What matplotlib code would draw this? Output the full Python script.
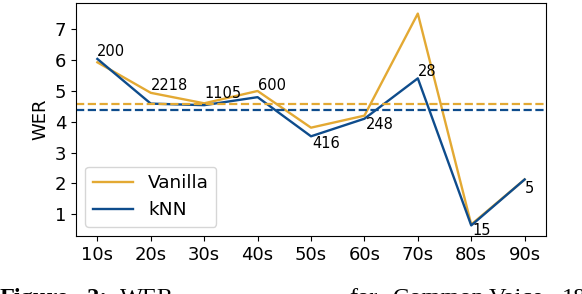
import matplotlib
matplotlib.use("Agg")
import matplotlib.pyplot as plt
import numpy as np

categories = ["10s", "20s", "30s", "40s", "50s", "60s", "70s", "80s", "90s"]
vanilla = [5.93, 4.94, 4.60, 5.00, 3.81, 4.20, 7.51, 0.67, 2.13]
knn = [6.04, 4.59, 4.54, 4.80, 3.53, 4.10, 5.41, 0.64, 2.13]
vanilla_mean = 4.58
knn_mean = 4.38
counts = ["200", "2218", "1105", "600", "416", "248", "28", "15", "5"]

# label placement: (dx pt, dy pt, vertical alignment) relative to kNN point
label_style = [(-0.5, 2.0, "baseline"), (0.3, 9.6, "baseline"), (0.2, 5.5, "baseline"),
               (0.4, 5.5, "baseline"), (0.7, 0.0, "top"), (0.7, 1.0, "top"),
               (0.2, 2.0, "baseline"), (1.2, 1.5, "top"), (0.3, -1.0, "top")]

c_van = "#E3A933"
c_knn = "#0E4C8C"

fig = plt.figure(figsize=(5.82, 2.94), dpi=100)
ax = fig.add_axes([76/582, 58/294, 470/582, 233/294])

x = np.arange(len(categories))
ax.plot(x, vanilla, color=c_van, lw=1.7, label="Vanilla")
ax.plot(x, knn, color=c_knn, lw=1.7, label="kNN")
ax.axhline(vanilla_mean, color=c_van, lw=1.6, ls="--")
ax.axhline(knn_mean, color=c_knn, lw=1.6, ls="--")

for i, (lab, (dx, dy, va)) in enumerate(zip(counts, label_style)):
    ax.annotate(lab, xy=(i, knn[i]), xytext=(dx, dy), textcoords="offset points",
                ha="left", va=va, fontsize=10.5)

ax.set_xticks(x)
ax.set_xticklabels(categories)
ax.set_yticks([1, 2, 3, 4, 5, 6, 7])
ax.tick_params(labelsize=13)
ax.set_ylabel("WER", fontsize=13)
ax.legend(loc="lower left", fontsize=13.3, handlelength=2.2)

cap_y = -10/294
serif = ["Liberation Serif", "DejaVu Serif"]
fig.text(0/582, cap_y, "Figure", fontsize=17.6, family=serif, fontweight="bold", va="baseline")
fig.text(87/582, cap_y, "2:", fontsize=17.6, family=serif, fontweight="bold", va="baseline")
fig.text(120/582, cap_y, "WER", fontsize=17.6, family=serif, va="baseline")
fig.text(349/582, cap_y, "for", fontsize=17.6, family=serif, va="baseline")
fig.text(393/582, cap_y, "Common", fontsize=17.6, family=serif, va="baseline")
fig.text(489/582, cap_y, "Voice", fontsize=17.6, family=serif, va="baseline")
fig.text(562/582, cap_y, "18", fontsize=17.6, family=serif, va="baseline")

fig.savefig("out.png", dpi=100)
